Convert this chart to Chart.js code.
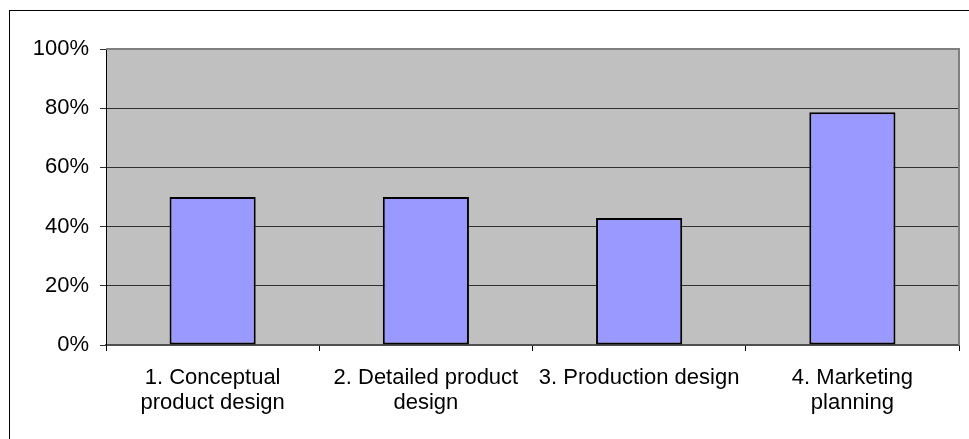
<!DOCTYPE html>
<html>
<head>
<meta charset="utf-8">
<script src="https://cdn.jsdelivr.net/npm/chart.js@4/dist/chart.umd.min.js"></script>
<style>
  html, body { margin: 0; padding: 0; background: #ffffff; }
  #wrap { width: 969px; height: 439px; position: relative; }
</style>
</head>
<body>
<div id="wrap"><canvas id="chart"></canvas></div>
<script>
// chart data
const categories = [
  ['1. Conceptual', 'product design'],
  ['2. Detailed product', 'design'],
  ['3. Production design'],
  ['4. Marketing', 'planning']
];
const shares = [50, 50, 42.9, 78.6];
const yTicks = [0, 20, 40, 60, 80, 100];

const FONT = { family: "'Liberation Sans', Arial, sans-serif", size: 22, lineHeight: 1.15 };

// gray plot area, its border and the outer frame
const frame = {
  id: 'frame',
  beforeDraw(chart) {
    const { ctx, chartArea: a } = chart;
    ctx.save();
    ctx.fillStyle = '#c0c0c0';
    ctx.fillRect(a.left, a.top, a.right - a.left, a.bottom - a.top);
    ctx.restore();
  },
  afterDraw(chart) {
    const { ctx, chartArea: a } = chart;
    ctx.save();
    ctx.strokeStyle = '#808080';
    ctx.lineWidth = 2;
    ctx.beginPath();
    ctx.moveTo(a.left, a.top);
    ctx.lineTo(a.right, a.top);
    ctx.lineTo(a.right, a.bottom);
    ctx.stroke();
    ctx.strokeStyle = '#000000';
    ctx.lineWidth = 1;
    ctx.strokeRect(9.5, 10.5, 1200, 1200);
    ctx.restore();
  }
};

new Chart(document.getElementById('chart'), {
  type: 'bar',
  data: {
    labels: categories,
    datasets: [{
      data: shares,
      backgroundColor: '#9999ff',
      borderColor: '#000000',
      borderWidth: 2,
      borderSkipped: false,
      barPercentage: 0.404,
      categoryPercentage: 1
    }]
  },
  options: {
    responsive: true,
    maintainAspectRatio: false,
    animation: false,
    layout: { padding: { left: 0, top: 49, right: 10, bottom: 0 } },
    plugins: {
      legend: { display: false },
      tooltip: { enabled: false }
    },
    scales: {
      x: {
        afterFit: (s) => { s.height = 94; },
        grid: {
          offset: true,
          drawOnChartArea: false,
          drawTicks: true,
          tickLength: 6,
          color: '#000000'
        },
        border: { color: '#505050', width: 2 },
        ticks: {
          color: '#000000',
          font: FONT,
          padding: 14,
          maxRotation: 0,
          autoSkip: false
        }
      },
      y: {
        min: 0,
        max: 100,
        afterFit: (s) => { s.width = 106; },
        afterBuildTicks: (s) => { s.ticks = yTicks.map(v => ({ value: v })); },
        grid: {
          color: '#303030',
          lineWidth: 1,
          tickLength: 6
        },
        border: { color: '#000000', width: 1 },
        ticks: {
          color: '#000000',
          font: FONT,
          padding: 11,
          callback: (v) => v + '%'
        }
      }
    }
  },
  plugins: [frame]
});
</script>
</body>
</html>
